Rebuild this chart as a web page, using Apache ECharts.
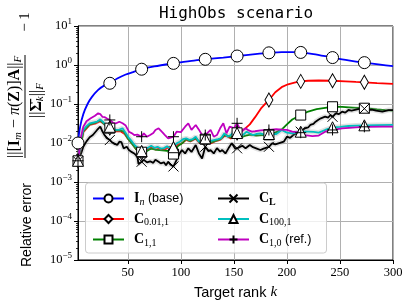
<!DOCTYPE html>
<html><head><meta charset="utf-8">
<script src="https://cdn.jsdelivr.net/npm/echarts@6/dist/echarts.min.js"></script>
<style>html,body{margin:0;padding:0;background:#fff}#c{width:409px;height:302px}</style>
</head><body><div id="c"></div><script>
// ---- data ----
const markerKs = [3, 33, 63, 93, 123, 153, 183, 213, 243, 273];
const xTicks = [50, 100, 150, 200, 250, 300];
const yTickExps = [-5, -4, -3, -2, -1, 0, 1];
const seriesNames = ['In', 'C001', 'C11', 'CL', 'C1001', 'C10'];

const kIn = [3,5,8,12,16,22,28,33,40,48,55,63,75,93,110,123,140,153,170,183,195,205,213,225,243,258,273,288,300];
const vIn = [0.01,0.026,0.055,0.1,0.15,0.23,0.3,0.34,0.45,0.57,0.66,0.78,0.92,1.1,1.28,1.4,1.55,1.7,1.9,2.05,2.15,2.15,2.1,1.9,1.55,1.32,1.15,1.02,0.93];

const kRed = [3,8,14,20,24,29,33,38,43,47,50,54,58,63,68,72,76,80,85,89,93,97,101,105,109,114,118,123,128,132,137,142,147,153,157,161,165,170,176,183,189,195,201,208,213,220,230,243,255,265,273,285,300];
const vRed = [0.0035,0.019,0.029,0.032,0.036,0.029,0.024,0.02,0.02,0.017,0.013,0.0098,0.0068,0.0056,0.0066,0.0076,0.0068,0.0072,0.0068,0.008,0.0068,0.009,0.0098,0.012,0.011,0.013,0.0098,0.012,0.0098,0.011,0.012,0.016,0.013,0.018,0.02,0.024,0.03,0.046,0.08,0.127,0.2,0.27,0.32,0.36,0.38,0.395,0.4,0.395,0.38,0.368,0.36,0.345,0.33];

const kGreen = [3,8,14,20,24,28,33,38,42,46,50,54,58,63,68,72,76,80,85,89,93,97,101,105,109,114,118,123,128,132,137,142,147,153,156,161,166,171,177,183,189,195,200,205,213,220,228,236,243,252,262,273,285,293,300];
const vGreen = [0.0035,0.02,0.03,0.034,0.038,0.03,0.024,0.021,0.021,0.02,0.013,0.0095,0.0068,0.0058,0.0062,0.0072,0.0068,0.0066,0.0064,0.0062,0.0052,0.0082,0.0098,0.0125,0.0112,0.0135,0.0102,0.0125,0.0102,0.0112,0.0125,0.0165,0.0138,0.0182,0.0138,0.0155,0.0165,0.0155,0.016,0.0162,0.0185,0.022,0.03,0.04,0.052,0.064,0.074,0.08,0.085,0.084,0.081,0.078,0.073,0.07,0.068];

const kCL = [3,6,8,11,14,17,21,24,26,28,30,33,35,37,40,42,44,46,49,51,53,56,59,60,63,65,68,71,74,76,79,81,84,86,88,90,93,96,99,101,104,107,110,114,117,120,123,126,128,131,134,137,139,142,145,148,151,153,158,161,165,168,171,175,178,183,186,189,192,197,200,203,206,210,213,217,220,222,225,227,230,232,236,239,241,243,246,249,252,255,258,261,264,267,271,273,277,280,284,287,290,293,296,300];
const vCL = [0.0034,0.0055,0.008,0.011,0.014,0.016,0.0216,0.0262,0.02,0.016,0.0135,0.0119,0.0105,0.0098,0.0089,0.0108,0.0105,0.0073,0.008,0.0066,0.006,0.0054,0.0045,0.0029,0.0033,0.0037,0.0032,0.0034,0.0031,0.0037,0.0033,0.003,0.0032,0.0027,0.0033,0.0028,0.0025,0.0037,0.0055,0.0066,0.0054,0.0073,0.0059,0.0089,0.0054,0.004,0.008,0.0062,0.0066,0.0054,0.0074,0.006,0.0066,0.0054,0.0074,0.0098,0.0073,0.0073,0.0085,0.0073,0.0089,0.0078,0.0073,0.0066,0.0072,0.008,0.0098,0.0092,0.0098,0.0108,0.0145,0.0135,0.016,0.018,0.0195,0.0238,0.025,0.029,0.031,0.0352,0.04,0.043,0.0472,0.045,0.0522,0.047,0.0578,0.055,0.0635,0.06,0.0702,0.068,0.071,0.074,0.0776,0.076,0.0702,0.072,0.068,0.066,0.0635,0.067,0.07,0.07];

const kCyan = [3,6,8,11,14,18,21,24,27,30,33,36,39,42,45,48,51,54,57,60,63,66,69,72,75,78,81,84,87,90,93,96,99,102,105,108,111,114,117,120,123,126,129,132,135,138,141,144,147,150,153,156,159,162,165,168,171,175,180,183,190,195,200,205,213,215,220,225,230,236,243,250,258,265,273,285,300];
const vCyan = [0.0035,0.014,0.0216,0.027,0.032,0.034,0.0352,0.0405,0.034,0.027,0.026,0.024,0.0216,0.022,0.0238,0.018,0.0135,0.0108,0.0085,0.0073,0.0062,0.0068,0.0076,0.0085,0.0075,0.008,0.0072,0.0074,0.0082,0.0072,0.0078,0.0098,0.0108,0.0125,0.0132,0.012,0.0125,0.0145,0.0108,0.0118,0.0132,0.0108,0.0115,0.012,0.0125,0.0132,0.0177,0.0145,0.016,0.0195,0.018,0.0145,0.0165,0.0195,0.0175,0.016,0.017,0.0177,0.016,0.017,0.017,0.0216,0.0185,0.0177,0.0195,0.0195,0.0195,0.0192,0.0184,0.0216,0.0253,0.026,0.0273,0.028,0.0284,0.0288,0.029];

const kMag = [3,6,8,11,15,19,22,24,26,28,30,33,36,39,42,45,48,51,54,56,59,63,65,68,71,74,76,79,82,85,88,91,93,96,100,104,107,110,114,117,120,123,128,131,134,137,140,143,146,150,153,157,161,164,167,170,175,183,190,195,200,205,213,217,224,230,236,243,252,265,273,290,300];
const vMag = [0.0035,0.015,0.0262,0.036,0.043,0.05,0.0578,0.055,0.047,0.046,0.043,0.039,0.033,0.032,0.0352,0.032,0.028,0.0195,0.0177,0.016,0.0165,0.0145,0.0177,0.0145,0.016,0.018,0.0216,0.0238,0.0195,0.016,0.0132,0.014,0.0145,0.0195,0.019,0.0262,0.032,0.0216,0.029,0.022,0.016,0.016,0.0216,0.0145,0.016,0.0238,0.032,0.0177,0.0262,0.024,0.032,0.0195,0.024,0.021,0.0195,0.02,0.021,0.0216,0.0225,0.022,0.0216,0.0195,0.0184,0.016,0.015,0.0155,0.0195,0.0216,0.0238,0.0253,0.026,0.0262,0.0262];

// ---- styling ----
const SERIF = '"Liberation Serif", "DejaVu Serif", serif';
const SANS = '"Liberation Sans", "DejaVu Sans", sans-serif';
const legendLabels = {
  In: '{sp|}{b|I}{si|n}{t| (base)}',
  C001: '{sp|}{b|C}{s|0.01,1}',
  C11: '{sp|}{b|C}{s|1,1}',
  CL: '{sp|}{b|C}{sb|L}',
  C1001: '{sp|}{b|C}{s|100,1}',
  C10: '{sp|}{b|C}{s|1,0}{t| (ref.)}'
};
const legendRich = {
  sp: {width: 5},
  b: {fontFamily: SERIF, fontWeight: 'bold', fontSize: 14, lineHeight: 15, color: '#000'},
  s: {fontFamily: SERIF, fontSize: 10, lineHeight: 11, padding: [7, 0, 0, 0], color: '#000'},
  si: {fontFamily: SERIF, fontStyle: 'italic', fontSize: 10, lineHeight: 11, padding: [7, 0, 0, 0], color: '#000'},
  sb: {fontFamily: SERIF, fontWeight: 'bold', fontSize: 10, lineHeight: 11, padding: [7, 0, 0, 0], color: '#000'},
  t: {fontFamily: SANS, fontSize: 12.5, lineHeight: 15, color: '#000'}
};

const xPath = 'path://M0,0L10,10M10,0L0,10';
const plusPath = 'path://M5,0L5,10M0,5L10,5';

function lineSeries(name, ks, vs, color, symbol, symbolSize, smooth) {
  return {
    name: name, type: 'line',
    data: ks.map((k, i) => ({value: [k, vs[i]], symbol: markerKs.indexOf(k) >= 0 ? symbol : 'none'})),
    symbol: symbol, symbolSize: symbolSize, showAllSymbol: true, smooth: smooth || false,
    lineStyle: {color: color, width: 1.8},
    itemStyle: {color: '#fff', borderColor: '#000', borderWidth: 1},
    emphasis: {disabled: true}, silent: true
  };
}
function bandSeries(ks, vs) {
  return {
    type: 'line', data: ks.map((k, i) => [k, vs[i]]), symbol: 'none',
    lineStyle: {color: 'rgba(150,150,150,0.28)', width: 5}, silent: true, emphasis: {disabled: true}
  };
}

const minorTicks = [];
for (let e = -5; e < 1; e++) for (let m = 2; m <= 9; m++) minorTicks.push(m * Math.pow(10, e));

const richN = {
  n: {fontFamily: SERIF, fontSize: 16, lineHeight: 18, fill: '#000'},
  i: {fontFamily: SERIF, fontStyle: 'italic', fontSize: 16, lineHeight: 18, fill: '#000'},
  b: {fontFamily: SERIF, fontWeight: 'bold', fontSize: 16, lineHeight: 18, fill: '#000'},
  si: {fontFamily: SERIF, fontStyle: 'italic', fontSize: 11, lineHeight: 12, padding: [7, 0, 0, 0], fill: '#000'}
};

const chart = echarts.init(document.getElementById('c'));
chart.setOption({
  animation: false,
  backgroundColor: '#fff',
  grid: {left: 78, right: 16, top: 26, bottom: 42, show: true, borderColor: '#000', borderWidth: 1, outerBoundsMode: 'none'},
  xAxis: {
    type: 'value', min: 3, max: 300,
    axisLine: {show: true, onZero: false, lineStyle: {color: '#000', width: 1}},
    axisTick: {show: true, length: 4, customValues: xTicks, lineStyle: {color: '#000'}},
    axisLabel: {customValues: xTicks, margin: 6, fontFamily: SERIF, fontSize: 12.5, color: '#000'},
    splitLine: {show: true, lineStyle: {color: '#b0b0b0', width: 1}},
    name: '{t|Target rank }{k|k}', nameLocation: 'middle', nameGap: 25,
    nameTextStyle: {rich: {t: {fontFamily: SANS, fontSize: 14.5, color: '#000'}, k: {fontFamily: SERIF, fontStyle: 'italic', fontSize: 15, color: '#000'}}}
  },
  yAxis: [{
    type: 'log', logBase: 10, min: 1e-5, max: 10,
    axisLine: {show: true, lineStyle: {color: '#000', width: 1}},
    axisTick: {show: true, length: 4, lineStyle: {color: '#000'}},
    splitLine: {show: true, lineStyle: {color: '#b0b0b0', width: 1}},
    axisLabel: {
      margin: 6,
      formatter: function (v) {
        const e = Math.round(Math.log10(v));
        if (yTickExps.indexOf(e) < 0) return '';
        return '{m|10}{e|' + (e < 0 ? '\u2212' + (-e) : e) + '}';
      },
      rich: {
        m: {fontFamily: SERIF, fontSize: 12.5, lineHeight: 14, color: '#000'},
        e: {fontFamily: SERIF, fontSize: 9, lineHeight: 10, padding: [0, 0, 9, 0], color: '#000'}
      }
    }
  }, {
    type: 'log', logBase: 10, min: 1e-5, max: 10, position: 'left',
    axisLine: {show: false}, splitLine: {show: false}, axisLabel: {show: false},
    axisTick: {show: true, length: 2, customValues: minorTicks, lineStyle: {color: '#000', width: 0.8}}
  }],
  legend: [{
    data: seriesNames.slice(0, 3), orient: 'vertical', left: 92, top: 190, padding: 0,
    itemWidth: 31, itemHeight: 10, itemGap: 3.5, z: 10,
    formatter: n => legendLabels[n], textStyle: {rich: legendRich}
  }, {
    data: seriesNames.slice(3), orient: 'vertical', left: 217, top: 190, padding: 0,
    itemWidth: 31, itemHeight: 10, itemGap: 3.5, z: 10,
    formatter: n => legendLabels[n], textStyle: {rich: legendRich}
  }],
  graphic: [
    {type: 'rect', z: 5, shape: {x: 85.5, y: 183, width: 241, height: 70, r: 3},
      style: {fill: 'rgba(255,255,255,0.8)', stroke: '#cccccc', lineWidth: 1}},
    {type: 'text', x: 236, y: 14, style: {text: 'HighObs scenario', fontFamily: '"DejaVu Sans Mono", monospace', fontSize: 16, align: 'center', verticalAlign: 'middle', fill: '#000'}},
    {type: 'text', x: 27, y: 225, rotation: Math.PI / 2, style: {text: 'Relative error', fontFamily: SANS, fontSize: 14, align: 'center', verticalAlign: 'middle', fill: '#000'}},
    {type: 'text', x: 15, y: 158, rotation: Math.PI / 2, style: {
      text: '{n|||[}{b|I}{si|m}{n| \u2212 }{i|\u03c0}{n|(}{b|Z}{n|)]}{b|A}{n|||}{si|F}',
      align: 'left', verticalAlign: 'middle', rich: richN}},
    {type: 'line', z: 10, shape: {x1: 25, y1: 55, x2: 25, y2: 158}, style: {stroke: '#000', lineWidth: 1}},
    {type: 'text', x: 37, y: 118, rotation: Math.PI / 2, style: {
      text: '{n|||}{b|\u03a3\u0304}{si|k}{n|||}{si|F}',
      align: 'left', verticalAlign: 'middle', rich: richN}},
    {type: 'text', x: 25, y: 22, rotation: Math.PI / 2, style: {text: '\u2212 1', fontFamily: SERIF, fontSize: 15, align: 'center', verticalAlign: 'middle', fill: '#000'}}
  ],
  series: [
    lineSeries('In', kIn, vIn, '#0000ff', 'circle', 12, 0.3),
    lineSeries('C001', kRed, vRed, '#ff0000', 'diamond', [8, 14], false),
    lineSeries('C11', kGreen, vGreen, '#008000', 'rect', 10, false),
    bandSeries(kCL, vCL),
    lineSeries('CL', kCL, vCL, '#000000', xPath, 10, false),
    bandSeries(kCyan, vCyan),
    lineSeries('C1001', kCyan, vCyan, '#00bfbf', 'triangle', 11, false),
    lineSeries('C10', kMag, vMag, '#bf00bf', plusPath, 11, false)
  ]
});
</script></body></html>
